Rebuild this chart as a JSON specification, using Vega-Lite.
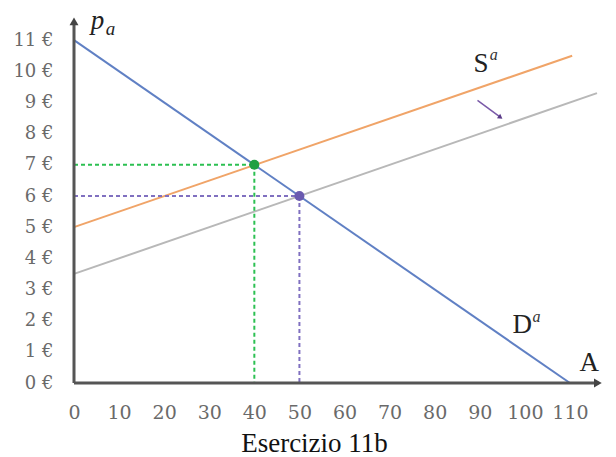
{
  "$schema": "https://vega.github.io/schema/vega-lite/v6.json",
  "width": 541,
  "height": 374,
  "autosize": "none",
  "padding": {"left": 74, "top": 9, "right": 1, "bottom": 74},
  "background": "white",
  "config": {"view": {"stroke": null}, "font": "DejaVu Serif", "axis": {"labelOverlap": false, "labelBound": false, "labelFlush": false},
    "locale": {"number": {"decimal": ",", "thousands": ".", "grouping": [3], "currency": ["", " €"]}}},
  "title": {"text": "Esercizio 11b", "orient": "bottom", "anchor": "middle", "dx": -30, "offset": 9, "fontSize": 27, "fontWeight": "normal", "font": "Liberation Serif", "color": "#111"},
  "datasets": {
    "curves": [
      {"k": "D", "A": 0, "p": 11},
      {"k": "D", "A": 110, "p": 0},
      {"k": "S", "A": 0, "p": 5},
      {"k": "S", "A": 110.5, "p": 10.5},
      {"k": "S2", "A": 0, "p": 3.5},
      {"k": "S2", "A": 116, "p": 9.3}
    ],
    "guides": [
      {"seg": "g7h", "k": "gl", "A": 0, "p": 7},
      {"seg": "g7h", "k": "gl", "A": 40, "p": 7},
      {"seg": "g7v", "k": "gl", "A": 40, "p": 7},
      {"seg": "g7v", "k": "gl", "A": 40, "p": 0},
      {"seg": "g6h", "k": "pl", "A": 0, "p": 6},
      {"seg": "g6h", "k": "pl", "A": 50, "p": 6},
      {"seg": "g6v", "k": "pl", "A": 50, "p": 6},
      {"seg": "g6v", "k": "pl", "A": 50, "p": 0}
    ],
    "eqpoints": [
      {"k": "gp", "A": 40, "p": 7},
      {"k": "pp", "A": 50, "p": 6}
    ],
    "axes": [
      {"a1": 0, "p1": 0, "a2": 116.3, "p2": 0},
      {"a1": 0, "p1": 0, "a2": 0, "p2": 11.6}
    ],
    "heads": [
      {"A": 116.2, "p": 0, "shape": "triangle-right"},
      {"A": 0, "p": 11.6, "shape": "triangle-up"}
    ],
    "shift": [{"a1": 89.5, "p1": 9.07, "a2": 94.4, "p2": 8.55}],
    "shifthead": [{"A": 94.6, "p": 8.52}],
    "bigtext": [
      {"label": "S", "A": 90.3, "p": 9.98},
      {"label": "D", "A": 99.4, "p": 1.6},
      {"label": "A", "A": 114.3, "p": 0.38}
    ],
    "suptext": [
      {"label": "a", "A": 93.1, "p": 10.35},
      {"label": "a", "A": 102.6, "p": 1.97}
    ]
  },
  "layer": [
    {
      "data": {"name": "curves"},
      "mark": {"type": "line", "strokeWidth": 2},
      "encoding": {
        "x": {"field": "A", "type": "quantitative", "scale": {"domain": [0, 117]},
          "axis": {"values": [0,10,20,30,40,50,60,70,80,90,100,110], "domain": false, "ticks": false, "grid": false, "title": null, "labelPadding": 20, "labelColor": "#6a6a6a", "labelFontSize": 19, "labelFont": "DejaVu Serif", "labelOverlap": false}},
        "y": {"field": "p", "type": "quantitative", "scale": {"domain": [0, 12]},
          "axis": {"values": [0,1,2,3,4,5,6,7,8,9,10,11], "tickCount": 12, "format": "$.0f", "domain": false, "ticks": false, "grid": false, "title": null, "labelPadding": 21, "labelColor": "#6a6a6a", "labelFontSize": 18, "labelFont": "DejaVu Serif", "labelOverlap": false, "labelSeparation": 0}},
        "color": {"field": "k", "type": "nominal", "scale": {"domain": ["D", "S", "S2", "gl", "pl", "gp", "pp"], "range": ["#6080c4", "#f0a468", "#b8b8b8", "#2cc052", "#8070c0", "#1fa043", "#6a5ab0"]}, "legend": null},
        "detail": {"field": "k"}
      }
    },
    {
      "data": {"name": "guides"},
      "mark": {"type": "line", "strokeWidth": 2, "strokeDash": [4, 3]},
      "encoding": {
        "x": {"field": "A", "type": "quantitative"},
        "y": {"field": "p", "type": "quantitative"},
        "detail": {"field": "seg"},
        "color": {"field": "k", "type": "nominal", "legend": null}
      }
    },
    {
      "data": {"name": "eqpoints"},
      "mark": {"type": "point", "filled": true, "size": 100, "opacity": 1},
      "encoding": {
        "x": {"field": "A", "type": "quantitative"},
        "y": {"field": "p", "type": "quantitative"},
        "color": {"field": "k", "type": "nominal", "legend": null}
      }
    },
    {
      "data": {"name": "axes"},
      "mark": {"type": "rule", "color": "#555", "strokeWidth": 3},
      "encoding": {
        "x": {"field": "a1", "type": "quantitative"},
        "y": {"field": "p1", "type": "quantitative"},
        "x2": {"field": "a2"},
        "y2": {"field": "p2"}
      }
    },
    {
      "data": {"name": "heads"},
      "mark": {"type": "point", "filled": true, "size": 80, "color": "#444", "opacity": 1},
      "encoding": {
        "x": {"field": "A", "type": "quantitative"},
        "y": {"field": "p", "type": "quantitative"},
        "shape": {"field": "shape", "type": "nominal", "scale": null}
      }
    },
    {
      "data": {"name": "shift"},
      "mark": {"type": "rule", "color": "#7a5aa8", "strokeWidth": 1.5},
      "encoding": {
        "x": {"field": "a1", "type": "quantitative"},
        "y": {"field": "p1", "type": "quantitative"},
        "x2": {"field": "a2"},
        "y2": {"field": "p2"}
      }
    },
    {
      "data": {"name": "shifthead"},
      "mark": {"type": "point", "filled": true, "size": 30, "color": "#5a3a88", "shape": "triangle-right", "angle": 36, "opacity": 1},
      "encoding": {
        "x": {"field": "A", "type": "quantitative"},
        "y": {"field": "p", "type": "quantitative"}
      }
    },
    {
      "data": {"name": "bigtext"},
      "mark": {"type": "text", "fontSize": 27, "font": "Liberation Serif", "color": "#222", "align": "center", "baseline": "alphabetic"},
      "encoding": {
        "x": {"field": "A", "type": "quantitative"},
        "y": {"field": "p", "type": "quantitative"},
        "text": {"field": "label"}
      }
    },
    {
      "data": {"name": "suptext"},
      "mark": {"type": "text", "fontSize": 16, "font": "Liberation Serif", "fontStyle": "italic", "color": "#333", "align": "center", "baseline": "alphabetic"},
      "encoding": {
        "x": {"field": "A", "type": "quantitative"},
        "y": {"field": "p", "type": "quantitative"},
        "text": {"field": "label"}
      }
    },
    {
      "data": {"values": [{"label": "p", "A": 5.2, "p": 11.36}]},
      "mark": {"type": "text", "fontSize": 27, "font": "Liberation Serif", "fontStyle": "italic", "color": "#222", "align": "center", "baseline": "alphabetic"},
      "encoding": {
        "x": {"field": "A", "type": "quantitative"},
        "y": {"field": "p", "type": "quantitative"},
        "text": {"field": "label"}
      }
    },
    {
      "data": {"values": [{"label": "a", "A": 8.1, "p": 11.16}]},
      "mark": {"type": "text", "fontSize": 19, "font": "Liberation Serif", "fontStyle": "italic", "color": "#222", "align": "center", "baseline": "alphabetic"},
      "encoding": {
        "x": {"field": "A", "type": "quantitative"},
        "y": {"field": "p", "type": "quantitative"},
        "text": {"field": "label"}
      }
    }
  ]
}
